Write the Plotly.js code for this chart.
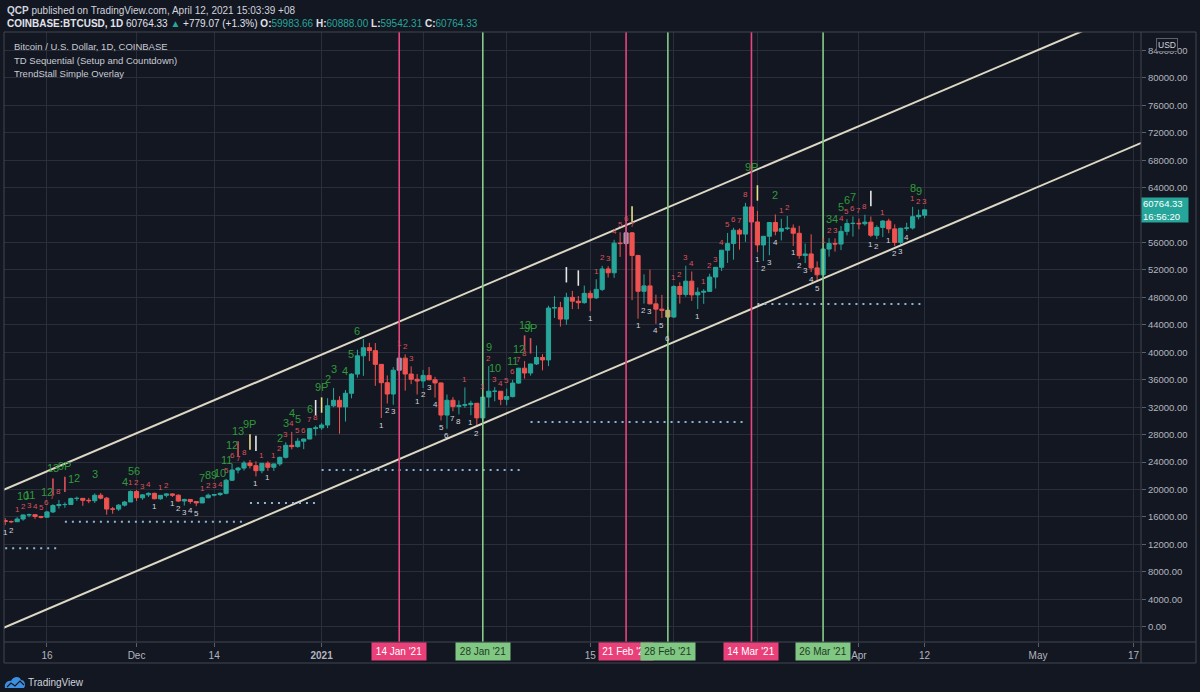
<!DOCTYPE html>
<html><head><meta charset="utf-8">
<script src="https://cdn.plot.ly/plotly-3.0.1.min.js"></script>
<style>html,body{margin:0;padding:0;background:#131722;}#chart{width:1200px;height:692px;}</style>
</head><body><div id="chart"></div>
<script>
// ---------------- DATA ----------------
const dates = [
"2020-11-09","2020-11-10","2020-11-11","2020-11-12","2020-11-13","2020-11-14","2020-11-15","2020-11-16","2020-11-17","2020-11-18","2020-11-19","2020-11-20","2020-11-21","2020-11-22","2020-11-23","2020-11-24","2020-11-25","2020-11-26","2020-11-27","2020-11-28","2020-11-29","2020-11-30",
"2020-12-01","2020-12-02","2020-12-03","2020-12-04","2020-12-05","2020-12-06","2020-12-07","2020-12-08","2020-12-09","2020-12-10","2020-12-11","2020-12-12","2020-12-13","2020-12-14","2020-12-15","2020-12-16","2020-12-17","2020-12-18","2020-12-19","2020-12-20","2020-12-21","2020-12-22","2020-12-23","2020-12-24","2020-12-25","2020-12-26","2020-12-27","2020-12-28","2020-12-29","2020-12-30","2020-12-31",
"2021-01-01","2021-01-02","2021-01-03","2021-01-04","2021-01-05","2021-01-06","2021-01-07","2021-01-08","2021-01-09","2021-01-10","2021-01-11","2021-01-12","2021-01-13","2021-01-14","2021-01-15","2021-01-16","2021-01-17","2021-01-18","2021-01-19","2021-01-20","2021-01-21","2021-01-22","2021-01-23","2021-01-24","2021-01-25","2021-01-26","2021-01-27","2021-01-28","2021-01-29","2021-01-30","2021-01-31",
"2021-02-01","2021-02-02","2021-02-03","2021-02-04","2021-02-05","2021-02-06","2021-02-07","2021-02-08","2021-02-09","2021-02-10","2021-02-11","2021-02-12","2021-02-13","2021-02-14","2021-02-15","2021-02-16","2021-02-17","2021-02-18","2021-02-19","2021-02-20","2021-02-21","2021-02-22","2021-02-23","2021-02-24","2021-02-25","2021-02-26","2021-02-27","2021-02-28",
"2021-03-01","2021-03-02","2021-03-03","2021-03-04","2021-03-05","2021-03-06","2021-03-07","2021-03-08","2021-03-09","2021-03-10","2021-03-11","2021-03-12","2021-03-13","2021-03-14","2021-03-15","2021-03-16","2021-03-17","2021-03-18","2021-03-19","2021-03-20","2021-03-21","2021-03-22","2021-03-23","2021-03-24","2021-03-25","2021-03-26","2021-03-27","2021-03-28","2021-03-29","2021-03-30","2021-03-31",
"2021-04-01","2021-04-02","2021-04-03","2021-04-04","2021-04-05","2021-04-06","2021-04-07","2021-04-08","2021-04-09","2021-04-10","2021-04-11","2021-04-12"];

const openP = [
15480,15330,15300,15700,16290,16330,16070,15960,16730,17660,17800,17820,18680,18710,18420,18370,19160,18740,17150,17140,17720,18180,
19700,18790,19220,19440,18650,19150,19360,19170,18320,18550,18250,18040,18800,19170,19270,19440,21350,22840,23120,23860,23480,22740,23820,23240,23730,24690,26440,26250,27040,27360,28880,
28990,29400,32200,33000,32040,34030,36820,39490,40670,40240,38240,35570,33920,37390,39150,36830,36070,35820,36630,36000,35530,30850,33010,32090,32270,32370,32570,30440,33470,34320,34320,
33140,33540,35510,37680,36980,38300,39240,38890,46450,46510,44840,48010,47450,47230,48590,47930,49170,52150,51590,55910,55850,57410,54120,48890,49680,47060,46290,46120,
45140,49590,48440,50370,48370,48760,48880,50970,52390,54880,55850,57800,57230,61190,59000,55650,56910,58920,57650,58030,58100,57350,54100,54340,52300,51300,55050,55860,55780,57630,58770,
58800,58740,58970,57060,58200,59130,57990,56000,58080,58120,59770,59983.66];

const highP = [
15840,15480,15960,16350,16480,16340,16150,16890,17860,18480,18120,18820,18960,18750,18770,19420,19490,18920,17450,17880,18330,19860,
19920,19310,19580,19530,19170,19420,19420,19290,18650,18560,18290,18950,19410,19350,19570,21560,23770,23290,24170,24300,24100,23840,24100,23790,24790,26870,28400,27500,27400,28990,29300,
29680,33300,34810,33600,34500,36940,40380,41950,41380,41350,38260,36630,37840,40100,39700,37950,36830,37430,37850,36420,35600,33850,33460,32980,34880,32940,32590,33800,38000,34930,34320,
34720,35990,37730,38720,38320,40990,39720,46790,48200,47350,48680,48950,48200,49720,49000,50650,52600,52540,56400,57500,58330,57530,54200,51360,52060,48400,48370,46600,
49790,50200,52620,51780,49450,49200,51450,52400,54900,57400,58150,58050,61790,61700,60600,56930,58980,60100,59470,59880,58640,58430,55850,57200,53250,55120,56640,56600,58400,59400,59800,
59490,60050,59800,58500,59250,59470,58650,58150,58880,61200,60800,60888];

const lowP = [
14810,15090,15290,15450,15960,15720,15790,15880,16560,17220,17340,17760,18330,17620,18010,18030,18570,16330,16460,16880,17520,18180,
18330,18510,18920,18580,18500,18850,18910,18200,17650,17920,17580,18020,18700,19000,19050,19290,21230,22350,22760,23070,21910,22370,22720,22700,23450,24510,25850,26100,25880,27320,27850,
28700,28950,32000,28130,29900,33290,36300,36570,38720,35110,30420,32530,32350,36700,34410,35360,33850,34800,35900,33400,30070,28850,31400,30950,31910,30830,29240,29880,31950,32860,32300,
32300,33430,35400,36160,36600,38150,37370,37990,45000,43750,44020,46300,46300,47100,45990,47760,48920,50900,50850,53900,55550,47600,44900,47100,47000,44150,45000,43000,
45020,47100,48100,47500,46300,47070,48880,49300,51840,53030,53500,54960,56100,58970,54600,53300,54150,57060,56300,57820,55500,53650,53000,51700,50300,51230,53950,54680,54900,57050,56870,
57930,58460,56800,56500,56800,57350,55450,55700,57700,57900,59380,59542.31];

const closeP = [
15330,15300,15700,16290,16330,16070,15960,16730,17660,17800,17820,18680,18710,18420,18370,19160,18740,17150,17140,17720,18180,19700,
18790,19220,19440,18650,19150,19360,19170,18320,18550,18250,18040,18800,19170,19270,19440,21350,22840,23120,23860,23480,22740,23820,23240,23730,24690,26440,26250,27040,27360,28880,28990,
29400,32200,33000,32040,34030,36820,39490,40670,40240,38240,35570,33920,37390,39150,36830,36070,35820,36630,36000,35530,30850,33010,32090,32270,32370,32570,30440,33470,34320,34320,33140,
33540,35510,37680,36980,38300,39240,38890,46450,46510,44840,48010,47450,47230,48590,47930,49170,52150,51590,55910,55850,57410,54120,48890,49680,47060,46290,46120,45140,
49590,48440,50370,48370,48760,48880,50970,52390,54880,55850,57800,57230,61190,59000,55650,56910,58920,57650,58030,58100,57350,54100,54340,52300,51300,55050,55860,55780,57630,58770,58800,
58740,58970,57060,58200,59130,57990,56000,58080,58120,59770,59980,60764.33];

// highlighted candles
const grayCandleDates = ["2021-01-14","2021-02-21"];
const orangeCandleDates = ["2021-02-28"];

// parallel channel (trend lines)
const channelX = ["2020-11-01","2021-05-20"];
const channelUpperY = [17100, 91100];
const channelLower_Y = [-3020, 71160];

// TrendStall dotted levels
const levelStart = ["2020-11-09","2020-11-19","2020-12-20","2021-01-01","2021-02-05","2021-03-15"];
const levelEnd   = ["2020-11-18","2020-12-19","2020-12-31","2021-02-04","2021-03-13","2021-04-12"];
const levelValue = [11430, 15310, 18030, 22850, 29850, 47050];

// vertical event lines
const pinkLineDates = ["2021-01-14","2021-02-21","2021-03-14"];
const pinkLineLabels = ["14 Jan '21","21 Feb '21","14 Mar '21"];
const greenLineDates = ["2021-01-28","2021-02-28","2021-03-26"];
const greenLineLabels = ["28 Jan '21","28 Feb '21","26 Mar '21"];

// TD Sequential sell setup counts (red, above bars)
const redDates = ["2020-11-11","2020-11-12","2020-11-13","2020-11-14","2020-11-15","2020-11-16","2020-11-17","2020-11-18",
"2020-11-30","2020-12-01","2020-12-02","2020-12-03","2020-12-05","2020-12-06",
"2020-12-12","2020-12-13","2020-12-14","2020-12-15","2020-12-16","2020-12-17","2020-12-18","2020-12-19",
"2020-12-22","2020-12-24","2020-12-25","2020-12-26","2020-12-27","2020-12-28","2020-12-29","2020-12-30","2020-12-31",
"2021-01-14","2021-01-15","2021-01-16","2021-01-25",
"2021-01-28","2021-01-29","2021-01-30","2021-01-31","2021-02-01","2021-02-02","2021-02-03","2021-02-04",
"2021-02-16","2021-02-17","2021-02-18","2021-02-19","2021-02-20","2021-02-21","2021-02-22",
"2021-03-01","2021-03-02","2021-03-03","2021-03-04",
"2021-03-06","2021-03-07","2021-03-08","2021-03-09","2021-03-10","2021-03-11","2021-03-12","2021-03-13",
"2021-03-19","2021-03-20",
"2021-03-26","2021-03-27","2021-03-28","2021-03-29","2021-03-30","2021-03-31","2021-04-01","2021-04-02",
"2021-04-05","2021-04-10","2021-04-11","2021-04-12"];
const redTexts = ["1","2","3","4","5","6","7","8",
"1","2","3","4","1","2",
"1","2","3","4","5","6","7","8",
"1","1","2","3","4","5","6","7","8",
"1","2","3","1",
"1","2","3","4","5","6","7","8",
"1","2","3","4","5","6","7",
"1","2","3","4",
"1","2","3","4","5","6","7","8",
"1","2",
"1","2","3","4","5","6","7","8",
"1","1","2","3"];

// TD Sequential buy setup counts (white, below bars)
const whiteDates = ["2020-11-09","2020-11-10",
"2020-12-04","2020-12-07","2020-12-08","2020-12-09","2020-12-10","2020-12-11",
"2020-12-21","2020-12-23",
"2021-01-11","2021-01-12","2021-01-13",
"2021-01-17","2021-01-18","2021-01-19","2021-01-20","2021-01-21","2021-01-22","2021-01-23","2021-01-24",
"2021-01-26","2021-01-27","2021-02-15",
"2021-02-23","2021-02-24","2021-02-25","2021-02-26","2021-02-27","2021-02-28",
"2021-03-05","2021-03-15","2021-03-16","2021-03-17","2021-03-18",
"2021-03-21","2021-03-22","2021-03-23","2021-03-24","2021-03-25",
"2021-04-03","2021-04-04","2021-04-06","2021-04-07","2021-04-08","2021-04-09"];
const whiteTexts = ["1","2",
"1","1","2","3","4","5",
"1","1",
"1","2","3",
"1","2","3","4","5","6","7","8",
"1","2","1",
"1","2","3","4","5","6",
"1","1","2","3","4",
"1","2","3","4","5",
"1","2","1","2","3","4"];

// TD countdown / setup-9 labels (green)
const greenDates = ["2020-11-12","2020-11-13","2020-11-16","2020-11-17","2020-11-19",
"2020-11-20","2020-11-21","2020-11-24","2020-11-29","2020-11-30","2020-12-01",
"2020-12-12","2020-12-13","2020-12-14","2020-12-15","2020-12-16","2020-12-17","2020-12-18","2020-12-20",
"2020-12-25","2020-12-26","2020-12-27","2020-12-28","2020-12-30",
"2021-01-01","2021-01-02","2021-01-03","2021-01-05","2021-01-06","2021-01-07",
"2021-01-29","2021-01-30","2021-02-02","2021-02-03","2021-02-04","2021-02-05",
"2021-03-14","2021-03-18",
"2021-03-27","2021-03-28","2021-03-29","2021-03-30","2021-03-31","2021-04-10","2021-04-11"];
const greenTexts = ["10","11","12","13","9P",
"1","2","3","4","5","6",
"7","8","9","10","11","12","13","9P",
"2","3","4","5","6",
"9P","2","3","4","5","6",
"9","10","11","12","13","9P",
"9P","2",
"3","4","5","6","7","8","9"];

// small vertical bar markers above candles
const markDates  = ["2020-11-17","2020-11-19","2020-12-18","2020-12-20","2020-12-21","2020-12-31","2021-01-01","2021-02-04","2021-02-05","2021-02-11","2021-02-13","2021-02-22","2021-03-15","2021-04-03"];
const markKinds  = ["red","red","red","yellow","white","white","yellow","red","red","white","white","yellow","yellow","white"];

// axis ticks (labels hidden under the date boxes / price box are left blank)
const xTickVals = ["2020-11-16","2020-12-01","2020-12-14","2021-01-01","2021-01-18","2021-02-01","2021-02-15","2021-03-01","2021-03-15","2021-04-01","2021-04-12","2021-05-01","2021-05-17"];
const xTickText = ["16","Dec","14","<b>2021</b>","","","15","","","Apr","12","May","17"];
const yTickVals = [0,4000,8000,12000,16000,20000,24000,28000,32000,36000,40000,44000,48000,52000,56000,60000,64000,68000,72000,76000,80000,84000];
const yTickText = ["0.00","4000.00","8000.00","12000.00","16000.00","20000.00","24000.00","28000.00","32000.00","36000.00","40000.00","44000.00","48000.00","52000.00","56000.00","","64000.00","68000.00","72000.00","76000.00","80000.00","84000.00"];

const lastPrice = 60764.33;

// ---------------- LAYOUT HELPERS ----------------
const PL = 4, PR = 1141, PT = 32, PB = 642;
const fx = p => (p - PL) / (PR - PL);
const fy = p => (PB - p) / (PB - PT);
const Y0 = -2230, Y1 = 86690;
const pricePerPx = (Y1 - Y0) / (PB - PT);
const FONT = "Liberation Sans, Arial, sans-serif";

const idx = {};
dates.forEach((d, i) => idx[d] = i);

function candleSubset(filter) {
  const o = {x: [], open: [], high: [], low: [], close: []};
  dates.forEach((d, i) => {
    if (filter(d)) {
      o.x.push(d); o.open.push(openP[i]); o.high.push(highP[i]); o.low.push(lowP[i]); o.close.push(closeP[i]);
    }
  });
  return o;
}
const special = new Set(grayCandleDates.concat(orangeCandleDates));
const UP = "#26a69a", DN = "#ef5350";

const traces = [];
const main = candleSubset(d => !special.has(d));
traces.push(Object.assign({type: "candlestick", hoverinfo: "skip",
  increasing: {line: {color: UP, width: 1}, fillcolor: UP},
  decreasing: {line: {color: DN, width: 1}, fillcolor: DN}, whiskerwidth: 0}, main));
const grayC = candleSubset(d => grayCandleDates.includes(d));
traces.push(Object.assign({type: "candlestick", hoverinfo: "skip",
  increasing: {line: {color: "#9a9cb0", width: 1}, fillcolor: "#9a9cb0"},
  decreasing: {line: {color: "#9a9cb0", width: 1}, fillcolor: "#9a9cb0"}}, grayC));
const orC = candleSubset(d => orangeCandleDates.includes(d));
traces.push(Object.assign({type: "candlestick", hoverinfo: "skip",
  increasing: {line: {color: "#d8a064", width: 1}, fillcolor: "#d8a064"},
  decreasing: {line: {color: "#d8a064", width: 1}, fillcolor: "#d8a064"}}, orC));

// channel lines
[channelUpperY, channelLower_Y].forEach(yv => traces.push({
  type: "scatter", mode: "lines", x: channelX, y: yv, hoverinfo: "skip",
  line: {color: "#ddd8c4", width: 2}
}));

// dotted levels
levelValue.forEach((v, i) => traces.push({
  type: "scatter", mode: "lines", x: [levelStart[i], levelEnd[i]], y: [v, v], hoverinfo: "skip",
  line: {color: "#8cb6d6", width: 2, dash: "2px,5px"}
}));

// bar markers
const markColor = {red: "#e0505a", yellow: "#e8e08a", white: "#e6e6e6"};
traces.push({
  type: "scatter", mode: "markers", hoverinfo: "skip",
  x: markDates, y: markDates.map(d => highP[idx[d]] + 18 * pricePerPx),
  marker: {symbol: "line-ns", size: 11, line: {width: 1.6, color: markKinds.map(k => markColor[k])}}
});

// ---------------- ANNOTATIONS ----------------
const ann = [];
redDates.forEach((d, i) => ann.push({x: d, y: highP[idx[d]], xref: "x", yref: "y", text: redTexts[i], showarrow: false,
  yanchor: "middle", yshift: 8, font: {family: FONT, size: 8, color: "#d9545c"}}));
whiteDates.forEach((d, i) => ann.push({x: d, y: lowP[idx[d]], xref: "x", yref: "y", text: whiteTexts[i], showarrow: false,
  yanchor: "middle", yshift: -7, font: {family: FONT, size: 8, color: "#d1d4dc"}}));
greenDates.forEach((d, i) => {
  const t = greenTexts[i];
  const sh = (t.indexOf("P") >= 0 || markDates.includes(d)) ? 36 : 19;
  ann.push({x: d, y: highP[idx[d]], xref: "x", yref: "y", text: t, showarrow: false,
    yanchor: "middle", yshift: sh, font: {family: FONT, size: 11, color: "#2f9a3a"}});
});

// header texts
ann.push({xref: "paper", yref: "paper", x: fx(5), y: fy(10), xanchor: "left", yanchor: "middle", showarrow: false,
  text: "<b>QCP</b> published on TradingView.com, April 12, 2021 15:03:39 +08",
  font: {family: FONT, size: 10, color: "#d1d4dc"}});
const tc = s => '<span style="color:#26a69a">' + s + '</span>';
ann.push({xref: "paper", yref: "paper", x: fx(5), y: fy(23.5), xanchor: "left", yanchor: "middle", showarrow: false,
  text: "<b>COINBASE:BTCUSD, 1D</b> 60764.33 " + tc("▲") + " +779.07 (+1.3%) <b>O:</b>" + tc("59983.66") + " <b>H:</b>" + tc("60888.00") + " <b>L:</b>" + tc("59542.31") + " <b>C:</b>" + tc("60764.33"),
  font: {family: FONT, size: 10, color: "#e0e3eb"}});
[["Bitcoin / U.S. Dollar, 1D, COINBASE", 46.5], ["TD Sequential (Setup and Countdown)", 60.5], ["TrendStall Simple Overlay", 73]].forEach(([t, py]) =>
  ann.push({xref: "paper", yref: "paper", x: fx(12), y: fy(py), xanchor: "left", yanchor: "middle", showarrow: false,
    text: t, font: {family: FONT, size: 9.5, color: "#c8cbd3"}}));

// date boxes on x axis
pinkLineDates.forEach((d, i) => ann.push({x: d, xref: "x", yref: "paper", y: fy(651.5), yanchor: "middle", showarrow: false,
  text: pinkLineLabels[i], bgcolor: "#e9407a", width: 52, height: 15, borderpad: 1,
  font: {family: FONT, size: 10, color: "#ffffff"}}));
greenLineDates.forEach((d, i) => ann.push({x: d, xref: "x", yref: "paper", y: fy(651.5), yanchor: "middle", showarrow: false,
  text: greenLineLabels[i], bgcolor: "#80c783", width: 52, height: 15, borderpad: 1,
  font: {family: FONT, size: 10, color: "#1f3b22"}}));

// last price label
ann.push({xref: "paper", yref: "y", x: 1.0, y: lastPrice, xanchor: "left", yanchor: "middle", showarrow: false,
  text: "60764.33<br>16:56:20", bgcolor: "#26a69a", width: 44, height: 22, borderpad: 1, align: "left",
  font: {family: FONT, size: 9.5, color: "#ffffff"}});
// USD box
ann.push({xref: "paper", yref: "paper", x: fx(1166.5), y: fy(45.5), xanchor: "center", yanchor: "middle", showarrow: false,
  text: "USD", bgcolor: "#131722", bordercolor: "#5d606b", borderwidth: 1, borderpad: 1,
  font: {family: FONT, size: 8.5, color: "#d1d4dc"}});
// TradingView footer
ann.push({xref: "paper", yref: "paper", x: fx(26), y: fy(682), xanchor: "left", yanchor: "middle", showarrow: false,
  text: "TradingView", font: {family: FONT, size: 10, color: "#d1d4dc"}});

// ---------------- SHAPES ----------------
const shapes = [];
pinkLineDates.forEach(d => shapes.push({type: "line", xref: "x", yref: "paper", x0: d, x1: d, y0: 0, y1: 1,
  line: {color: "#e9457f", width: 1.6}}));
greenLineDates.forEach(d => shapes.push({type: "line", xref: "x", yref: "paper", x0: d, x1: d, y0: 0, y1: 1,
  line: {color: "#86cc88", width: 1.6}}));
// frame
const FR = "#434651";
shapes.push({type: "rect", xref: "paper", yref: "paper", x0: fx(4), x1: fx(1196), y0: fy(663), y1: fy(32), line: {color: FR, width: 1}});
shapes.push({type: "line", xref: "paper", yref: "paper", x0: fx(4), x1: fx(1196), y0: fy(642), y1: fy(642), line: {color: FR, width: 1}});
shapes.push({type: "line", xref: "paper", yref: "paper", x0: fx(1141), x1: fx(1141), y0: fy(663), y1: fy(32), line: {color: FR, width: 1}});
// TradingView logo icon
const P = (x, y) => fx(x) + "," + fy(y);
shapes.push({type: "path", xref: "paper", yref: "paper", fillcolor: "#3d8fe0", line: {width: 0},
  path: "M" + P(5, 688) + " C" + P(4, 683) + " " + P(8, 680) + " " + P(11, 681) + " C" + P(13, 676) + " " + P(20, 676) + " " + P(21, 680) +
        " C" + P(25, 680) + " " + P(26, 685) + " " + P(24, 688) + " Z"});
shapes.push({type: "path", xref: "paper", yref: "paper", line: {color: "#131722", width: 1.2},
  path: "M" + P(7, 687) + " L" + P(11, 683) + " L" + P(15, 686) + " L" + P(20, 681) + " L" + P(24, 685)});

const layout = {
  width: 1200, height: 692,
  paper_bgcolor: "#131722", plot_bgcolor: "#131722",
  margin: {l: PL, r: 1200 - PR, t: PT, b: 692 - PB, pad: 0},
  showlegend: false,
  boxgap: 0.3, boxgroupgap: 0,
  font: {family: FONT, color: "#b2b5be"},
  xaxis: {
    type: "date", range: ["2020-11-08 19:12", "2021-05-18 06:00"],
    tickvals: xTickVals, ticktext: xTickText,
    tickfont: {family: FONT, size: 10, color: "#b2b5be"},
    ticks: "outside", ticklen: 4, tickcolor: "#5d606b",
    showgrid: true, gridcolor: "#2a2e3b", gridwidth: 1,
    zeroline: false, showline: false, rangeslider: {visible: false}, fixedrange: true
  },
  yaxis: {
    side: "right", range: [Y0, Y1], tickvals: yTickVals, ticktext: yTickText,
    tickfont: {family: FONT, size: 9.5, color: "#b2b5be"},
    ticks: "outside", ticklen: 4, tickcolor: "#5d606b",
    showgrid: true, gridcolor: "#2a2e3b", gridwidth: 1,
    zeroline: false, showline: false, fixedrange: true
  },
  annotations: ann,
  shapes: shapes
};

Plotly.newPlot("chart", traces, layout, {staticPlot: true, displayModeBar: false});
</script>
</body></html>
